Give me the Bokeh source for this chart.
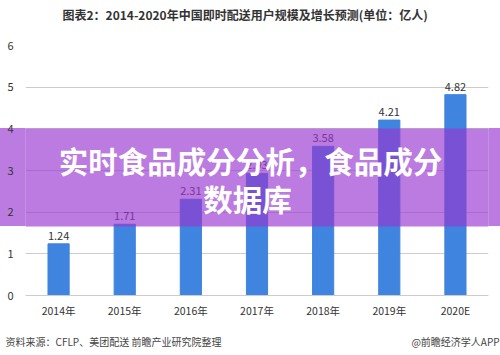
from bokeh.plotting import figure
from bokeh.models import ColumnDataSource, Range1d, Label, BoxAnnotation, Title
from bokeh.core.properties import value
from bokeh.embed import file_html
from bokeh.resources import INLINE

years = ["2014年", "2015年", "2016年", "2017年", "2018年", "2019年", "2020E"]
users = [1.24, 1.71, 2.31, 2.93, 3.58, 4.21, 4.82]
labels = ["1.24", "1.71", "2.31", "2.93", "3.58", "4.21", "4.82"]
title_text = "图表2：2014-2020年中国即时配送用户规模及增长预测(单位：亿人)"
source_text = "资料来源：CFLP、美团配送 前瞻产业研究院整理"
brand_text = "@前瞻经济学人APP"
banner_lines = ["实时食品成分分析，食品成分", "数据库"]

FONT = "Noto Sans CJK SC"
BAND = "#9837D0"
BAND_ON_WHITE = "#BB7BE0"

src = ColumnDataSource(dict(x=years, y=users, t=labels))

p = figure(x_range=years, y_range=Range1d(0, 6), width=500, height=355,
           output_backend="svg", toolbar_location=None,
           min_border_left=25, min_border_right=12, min_border_top=45,
           min_border_bottom=60)
p.outline_line_color = None
p.background_fill_color = "white"
p.border_fill_alpha = 0
p.styles = {"background": "linear-gradient(to bottom, white 0px, white 128px, %s 128px, %s 226px, white 226px, white 355px)" % (BAND_ON_WHITE, BAND_ON_WHITE)}

p.vbar(x="x", top="y", width=0.32, source=src, color="#3F84DE")
p.text(x="x", y="y", text="t", source=src, text_align="center",
       text_baseline="bottom", y_offset=-4, text_font_size="11px",
       text_color="#333333", text_font=value(FONT))

p.ygrid.grid_line_color = "#cccccc"
p.xgrid.grid_line_color = None
p.yaxis.ticker = [0, 1, 2, 3, 4, 5, 6]
for ax in (p.xaxis, p.yaxis):
    ax.major_tick_line_color = None
    ax.minor_tick_line_color = None
    ax.major_tick_out = 0
    ax.major_tick_in = 0
    ax.minor_tick_out = 0
    ax.major_label_text_font = FONT
    ax.major_label_text_color = "#333333"
p.yaxis.major_label_text_font_size = "11px"
p.xaxis.major_label_text_font_size = "10.5px"
p.yaxis.axis_line_color = None
p.xaxis.axis_line_color = "#cccccc"
p.yaxis.major_label_standoff = 12
p.xaxis.major_label_standoff = 7

# top: spacer (closest to frame) then chart title
p.add_layout(Title(text=" ", text_font_size="1px", standoff=19), "above")
p.add_layout(Title(text=title_text, align="left", offset=37, vertical_align="middle",
                   standoff=0, text_font=FONT, text_font_size="12px",
                   text_font_style="bold", text_color="#333333"), "above")

# bottom: spacer under the axis, then the source line
gap = "\u3000" * 19
p.add_layout(Title(text=" ", text_font_size="1px", standoff=8.5), "below")
p.add_layout(Title(text=source_text + gap + brand_text, align="left", offset=-20,
                   vertical_align="middle", standoff=0, text_font=FONT,
                   text_font_size="10px", text_font_style="normal",
                   text_color="#444444"), "below")

p.add_layout(BoxAnnotation(left=0, right=500, left_units="canvas", right_units="canvas",
                           top=128, bottom=226, top_units="canvas", bottom_units="canvas",
                           fill_color=BAND, fill_alpha=0.66, line_color=None))

p.add_layout(Label(x=250, y=159, x_units="canvas", y_units="canvas", text=banner_lines[0],
                   text_align="center", text_baseline="middle", text_font=FONT,
                   text_font_size="29.5px", text_font_style="bold", text_color="white"))
p.add_layout(Label(x=247, y=197, x_units="canvas", y_units="canvas", text=banner_lines[1],
                   text_align="center", text_baseline="middle", text_font=FONT,
                   text_font_size="29.5px", text_font_style="bold", text_color="white"))

open("out.html", "w").write(file_html(p, INLINE))
